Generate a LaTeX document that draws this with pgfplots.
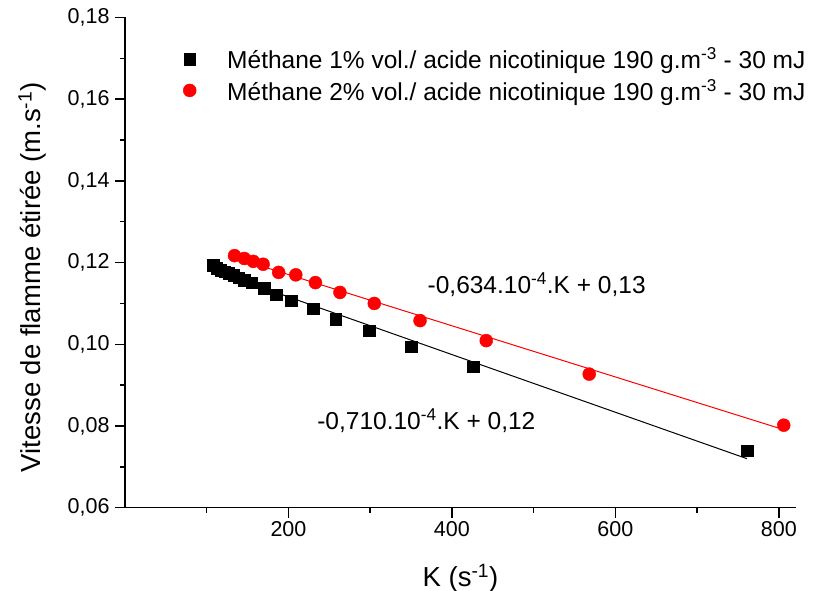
\documentclass[border=0pt]{standalone}
\usepackage{pgfplots}
\pgfplotsset{compat=1.18}
\usepackage{fontspec}
\setmainfont{Liberation Sans}
\pgfplotstableread{
K V
108 0.1193
112 0.1187
117 0.1182
122 0.1178
127 0.1174
133 0.1169
139 0.1163
146 0.1157
155 0.1151
170 0.1137
185 0.1121
203 0.1107
230 0.1087
258 0.1062
299 0.1033
350 0.0994
426 0.0945
761 0.0740
}\blacktab
\pgfplotstableread{
K V
134 0.1217
146 0.1210
157 0.1203
169 0.1196
188 0.1176
209 0.1170
233 0.1151
263 0.1127
305 0.1100
361 0.1058
442 0.1009
568 0.0927
806 0.0802
}\redtab
\begin{document}
\begin{tikzpicture}
\path[use as bounding box] (-125pt,-83.3pt) rectangle (690pt,507.7pt);
\begin{axis}[
  at={(0pt,0pt)}, anchor=south west,
  scale only axis, width=671pt, height=490.2pt,
  xmin=0, xmax=821, ymin=0.06, ymax=0.18,
  axis x line*=bottom, axis y line*=left,
  axis line style={-, line width=1.5pt},
  xtick={200,400,600,800}, minor xtick={100,300,500,700},
  ytick={0.06,0.08,0.10,0.12,0.14,0.16,0.18},
  minor ytick={0.07,0.09,0.11,0.13,0.15,0.17},
  tick align=outside, major tick length=10pt, minor tick length=5pt,
  every tick/.style={line width=1.5pt, black},
  tick label style={font=\fontsize{21.5}{25}\selectfont},
  /pgf/number format/assume math mode=true,
  yticklabel style={xshift=-2pt, /pgf/number format/.cd, fixed, fixed zerofill, precision=2, use comma},
  xticklabel style={/pgf/number format/.cd, fixed, precision=0},
  scaled y ticks=false,
  xlabel={K (s\textsuperscript{-1})},
  ylabel={Vitesse de flamme étirée (m.s\textsuperscript{-1})},
  label style={font=\fontsize{27.5}{32}\selectfont},
  xlabel style={at={(axis description cs:0.5,-0.143)}, anchor=center},
  ylabel style={at={(axis description cs:-0.138,0.47)}, anchor=center},
  legend style={draw=none, fill=none, font=\fontsize{24.5}{29}\selectfont,
    at={(axis description cs:0.082,0.947)}, anchor=north west,
    row sep=5pt,
    /tikz/every odd column/.append style={column sep=29pt}},
  legend cell align=left,
  clip=false,
]
\addplot[black, line width=1pt, forget plot] coordinates {(108,0.1181) (761,0.0720)};
\addplot[red, line width=1pt, forget plot] coordinates {(134,0.1212) (806,0.0791)};
\addplot[only marks, mark=square*, mark size=5.8pt, black] table[x=K,y=V] {\blacktab};
\addlegendentry{Méthane 1\% vol./ acide nicotinique 190 g.m\textsuperscript{-3} - 30 mJ}
\addplot[only marks, mark=*, mark size=6.5pt, red] table[x=K,y=V] {\redtab};
\addlegendentry{Méthane 2\% vol./ acide nicotinique 190 g.m\textsuperscript{-3} - 30 mJ}
\node[anchor=west, font=\fontsize{24.5}{29}\selectfont] at (axis cs:366,0.1145) {-0,634.10\textsuperscript{-4}.K + 0,13};
\node[anchor=west, font=\fontsize{24.5}{29}\selectfont] at (axis cs:231,0.0812) {-0,710.10\textsuperscript{-4}.K + 0,12};
\end{axis}
\end{tikzpicture}
\end{document}
